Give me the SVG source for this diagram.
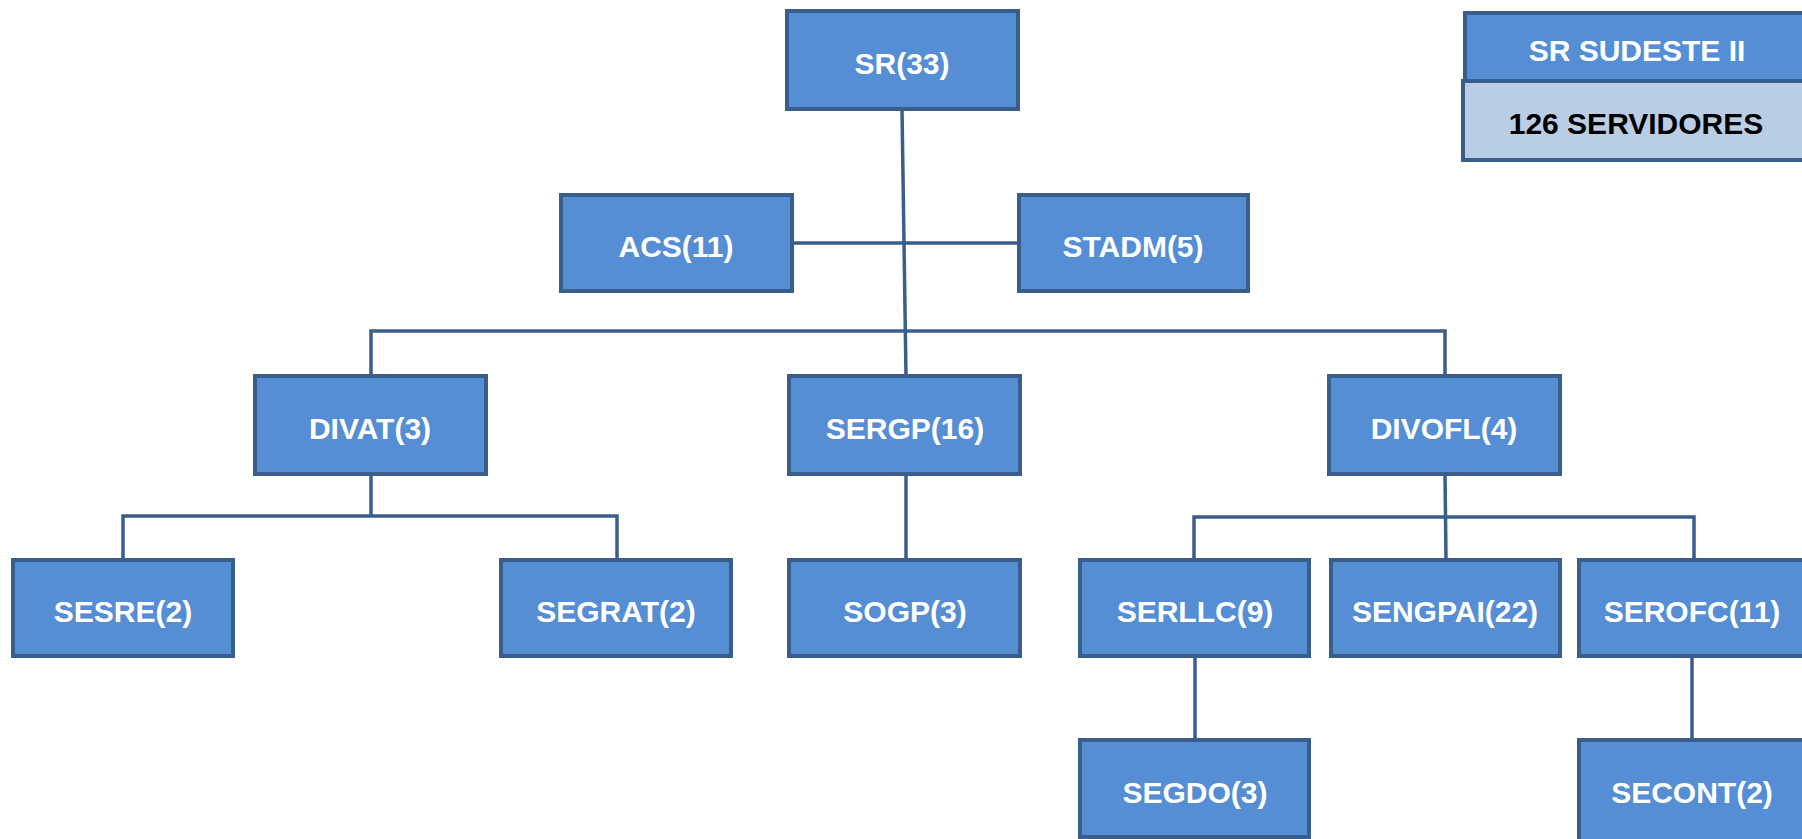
<svg xmlns="http://www.w3.org/2000/svg" width="1802" height="839" viewBox="0 0 1802 839">
<style>
.box{fill:#558ED5;stroke:#3A5E8C;stroke-width:4;}
.lbox{fill:#B9CDE5;stroke:#3A5E8C;stroke-width:4;}
.t{font-family:"Liberation Sans",Arial,sans-serif;font-weight:bold;font-size:30px;fill:#FFFFFF;text-anchor:middle;}
.tb{fill:#000000;}
.c{fill:none;stroke:#3A5E8C;stroke-width:3.5;}
</style>
<rect width="1802" height="839" fill="#FFFFFF"/>
<g id="connectors">
<line class="c" x1="902" y1="109" x2="906" y2="376"/>
<line class="c" x1="792" y1="243" x2="1019" y2="243"/>
<polyline class="c" points="371,376 371,331 1445,331 1445,376"/>
<line class="c" x1="371" y1="474" x2="371" y2="516"/>
<polyline class="c" points="123,560 123,516 617,516 617,560"/>
<line class="c" x1="906" y1="474" x2="906" y2="560"/>
<line class="c" x1="1445" y1="474" x2="1446" y2="560"/>
<polyline class="c" points="1194,560 1194,517 1694,517 1694,560"/>
<line class="c" x1="1195" y1="656" x2="1195" y2="740"/>
<line class="c" x1="1692" y1="656" x2="1692" y2="740"/>
</g>
<g id="legend-title"><rect class="box" x="1465" y="13" width="345" height="68"/><text class="t" x="1637" y="61">SR SUDESTE II</text></g>
<g id="legend-count"><rect class="lbox" x="1463" y="81" width="347" height="79"/><text class="t tb" x="1636" y="134">126 SERVIDORES</text></g>
<g id="SR"><rect class="box" x="787" y="11" width="231" height="98"/><text class="t" x="902" y="74">SR(33)</text></g>
<g id="ACS"><rect class="box" x="561" y="195" width="231" height="96"/><text class="t" x="676" y="257">ACS(11)</text></g>
<g id="STADM"><rect class="box" x="1019" y="195" width="229" height="96"/><text class="t" x="1133" y="257">STADM(5)</text></g>
<g id="DIVAT"><rect class="box" x="255" y="376" width="231" height="98"/><text class="t" x="370" y="439">DIVAT(3)</text></g>
<g id="SERGP"><rect class="box" x="789" y="376" width="231" height="98"/><text class="t" x="905" y="439">SERGP(16)</text></g>
<g id="DIVOFL"><rect class="box" x="1329" y="376" width="231" height="98"/><text class="t" x="1444" y="439">DIVOFL(4)</text></g>
<g id="SESRE"><rect class="box" x="13" y="560" width="220" height="96"/><text class="t" x="123" y="622">SESRE(2)</text></g>
<g id="SEGRAT"><rect class="box" x="501" y="560" width="230" height="96"/><text class="t" x="616" y="622">SEGRAT(2)</text></g>
<g id="SOGP"><rect class="box" x="789" y="560" width="231" height="96"/><text class="t" x="905" y="622">SOGP(3)</text></g>
<g id="SERLLC"><rect class="box" x="1080" y="560" width="229" height="96"/><text class="t" x="1195" y="622">SERLLC(9)</text></g>
<g id="SENGPAI"><rect class="box" x="1331" y="560" width="229" height="96"/><text class="t" x="1445" y="622">SENGPAI(22)</text></g>
<g id="SEROFC"><rect class="box" x="1579" y="560" width="230" height="96"/><text class="t" x="1692" y="622">SEROFC(11)</text></g>
<g id="SEGDO"><rect class="box" x="1080" y="740" width="229" height="97"/><text class="t" x="1195" y="803">SEGDO(3)</text></g>
<g id="SECONT"><rect class="box" x="1579" y="740" width="230" height="102"/><text class="t" x="1692" y="803">SECONT(2)</text></g>
</svg>
